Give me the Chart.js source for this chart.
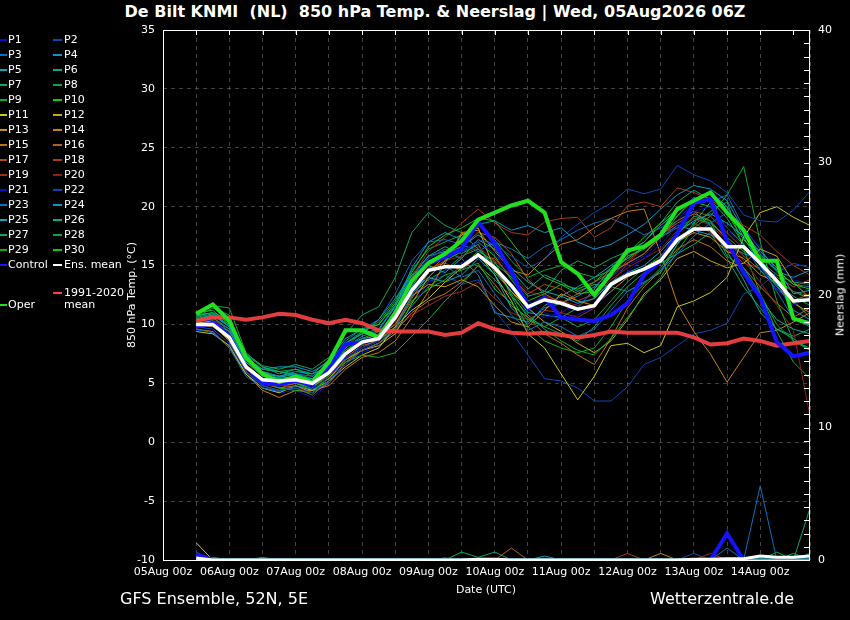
<!DOCTYPE html>
<html lang="nl">
<head>
<meta charset="UTF-8">
<title>De Bilt KNMI 850 hPa Temp. &amp; Neerslag</title>
<script src="https://cdn.jsdelivr.net/npm/chart.js"></script>
<style>
  html, body { margin: 0; padding: 0; background: #000; }
  body { width: 850px; height: 620px; overflow: hidden; position: relative; font-family: "DejaVu Sans", sans-serif; color: #fff; }
  #grafiek { position: absolute; left: 0; top: 0; }
  .titel { position: absolute; left: 0; top: 2px; width: 870px; text-align: center; font-weight: bold; font-size: 16px; white-space: nowrap; }
  .leg { position: absolute; font-size: 11px; line-height: 12px; white-space: nowrap; }
  .lijn { position: absolute; height: 2px; }
  .as-titel { position: absolute; font-size: 11px; white-space: nowrap; transform: translate(-50%, -50%) rotate(-90deg); }
  .x-titel { position: absolute; font-size: 11px; white-space: nowrap; transform: translate(-50%, -50%); }
  .voet { position: absolute; top: 589px; font-size: 16px; white-space: nowrap; }
</style>
</head>
<body>
<div class="titel">De Bilt KNMI&nbsp; (NL)&nbsp; 850 hPa Temp. &amp; Neerslag | Wed, 05Aug2026 06Z</div>
<canvas id="grafiek" width="850" height="620"></canvas>
<div id="legenda"></div>
<div class="as-titel" style="left:131px; top:295px;">850 hPa Temp. (°C)</div>
<div class="as-titel" style="left:840px; top:295px;">Neerslag (mm)</div>
<div class="x-titel" style="left:486px; top:589px;">Date (UTC)</div>
<div class="voet" style="left:120px;">GFS Ensemble, 52N, 5E</div>
<div class="voet" style="left:650px;">Wetterzentrale.de</div>

<script>
// uren sinds 05Aug 00z, stap 6 uur
const uren = [12, 18, 24, 30, 36, 42, 48, 54, 60, 66, 72, 78, 84, 90, 96, 102, 108, 114, 120, 126,
              132, 138, 144, 150, 156, 162, 168, 174, 180, 186, 192, 198, 204, 210, 216, 222, 228, 234];

const dagLabels = ['05Aug 00z', '06Aug 00z', '07Aug 00z', '08Aug 00z', '09Aug 00z',
                   '10Aug 00z', '11Aug 00z', '12Aug 00z', '13Aug 00z', '14Aug 00z'];

const kleuren = ['#0a10c8', '#0a48b8', '#0a70c0', '#0a96c8', '#0aa8bc', '#0aa88c', '#0aa864', '#0aa840', '#0ab020', '#10c810',
                 '#c8c810', '#c8a810', '#c89010', '#c88010', '#c07010', '#b86010', '#b04a10', '#a83c18', '#a02c1c', '#901c1c'];

// 850 hPa temperatuur per lid (°C)
const P1  = [10.2, 10.4, 9.2, 6.5, 5.0, 4.8, 5.2, 4.6, 5.5, 7.2,  8.0, 8.6, 10.5, 13.5, 15.2, 15.8, 16.2, 17.0, 16.0, 14.2,  12.0, 11.0, 10.4, 10.8, 11.5, 13.0, 14.5, 15.6, 16.8, 18.4,  19.6, 20.0, 18.2, 16.5, 14.8, 13.0, 11.6, 12.4];
const P2  = [9.8, 9.6, 8.4, 6.0, 4.8, 4.4, 4.6, 4.2, 5.2, 7.0,  8.2, 9.2, 11.2, 13.8, 15.6, 16.4, 16.0, 17.2, 16.8, 15.8,  14.8, 15.5, 17.4, 18.5, 19.5, 20.3, 21.5, 21.1, 21.5, 23.5,  22.7, 22.2, 21.2, 19.3, 18.8, 18.7, 19.7, 21.3];
const P3  = [9.6, 9.3, 8.0, 5.6, 4.6, 4.3, 4.8, 4.5, 5.0, 6.6,  7.8, 8.4, 9.6, 12.5, 14.5, 15.0, 14.0, 14.6, 12.6, 10.8,  9.5, 10.2, 9.8, 9.0, 9.6, 11.2, 12.8, 13.5, 14.6, 16.0,  17.5, 18.6, 19.5, 17.8, 15.0, 12.8, 10.5, 9.8];
const P4  = [10.4, 10.8, 9.8, 7.2, 5.6, 5.5, 5.8, 5.2, 6.2, 8.0,  9.0, 9.5, 11.5, 14.8, 17.0, 17.8, 17.2, 18.5, 18.8, 18.0,  18.4, 17.8, 18.2, 17.0, 16.4, 16.8, 17.6, 18.5, 19.8, 21.0,  21.8, 21.5, 20.5, 18.0, 16.0, 14.5, 14.0, 14.6];
const P5  = [10.0, 10.2, 9.4, 6.8, 5.8, 5.6, 6.0, 5.8, 6.4, 8.2,  8.8, 9.0, 10.6, 12.8, 14.0, 13.6, 14.2, 15.6, 14.2, 11.4,  10.0, 11.6, 12.4, 11.8, 12.2, 13.6, 14.4, 15.0, 16.2, 17.8,  18.8, 19.4, 18.6, 17.5, 16.2, 14.8, 12.6, 12.9];
const P6  = [10.3, 10.6, 9.6, 7.0, 6.2, 6.0, 5.6, 5.4, 6.8, 8.4,  9.2, 10.4, 12.2, 14.2, 15.0, 14.4, 15.6, 17.2, 16.4, 14.6,  13.0, 14.2, 13.6, 12.8, 13.4, 13.2, 12.8, 13.6, 14.4, 16.8,  18.6, 20.4, 17.0, 14.6, 12.2, 10.4, 9.6, 9.2];
const P7  = [10.6, 10.9, 10.2, 7.5, 6.5, 6.2, 6.6, 6.2, 7.2, 9.2,  10.8, 11.5, 14.0, 17.8, 19.5, 18.4, 17.8, 16.4, 15.2, 14.0,  12.4, 12.8, 14.6, 15.4, 14.8, 15.6, 16.2, 17.0, 18.6, 20.4,  21.4, 20.6, 19.0, 16.8, 14.6, 13.4, 12.4, 11.6];
const P8  = [10.8, 11.6, 11.4, 7.6, 6.4, 6.0, 5.8, 5.4, 6.2, 7.8,  8.6, 8.8, 9.6, 11.6, 13.2, 14.2, 14.6, 15.2, 13.0, 11.8,  10.4, 9.8, 10.6, 9.8, 10.4, 12.0, 13.6, 14.8, 15.8, 17.6,  19.2, 18.8, 15.8, 14.8, 12.6, 10.0, 8.6, 7.8];
const P9  = [10.2, 10.4, 9.0, 6.4, 5.2, 4.6, 4.4, 4.2, 5.6, 6.8,  7.4, 7.2, 7.6, 9.0, 10.4, 12.0, 13.4, 15.0, 13.8, 12.4,  10.8, 9.6, 8.6, 7.8, 7.4, 8.8, 10.6, 12.4, 14.0, 16.2,  18.2, 19.2, 21.0, 23.4, 17.0, 12.0, 8.6, 8.0];
const P10 = [11.0, 11.2, 10.0, 7.4, 6.0, 5.4, 5.0, 4.6, 5.8, 8.0,  9.4, 10.0, 11.8, 14.4, 16.6, 17.6, 18.2, 19.0, 18.8, 17.0,  15.2, 14.0, 13.4, 12.6, 12.8, 14.2, 15.8, 16.4, 17.4, 19.2,  20.6, 21.2, 19.4, 17.2, 15.8, 14.6, 13.4, 13.0];
const P11 = [9.4, 9.2, 8.2, 5.8, 4.6, 4.2, 4.8, 4.4, 5.2, 6.4,  7.4, 8.0, 9.8, 11.2, 12.2, 13.6, 14.8, 16.0, 14.2, 12.0,  9.2, 8.0, 5.8, 3.6, 5.6, 8.2, 8.4, 7.6, 8.2, 11.5,  12.0, 12.7, 14.0, 17.4, 19.5, 20.0, 19.1, 18.4];
const P12 = [9.8, 10.0, 8.6, 6.2, 5.0, 4.8, 5.0, 4.8, 5.4, 7.0,  7.8, 8.2, 9.2, 11.8, 14.0, 15.4, 17.6, 18.2, 14.6, 12.8,  11.4, 10.2, 9.4, 8.4, 7.6, 8.6, 10.4, 12.6, 13.8, 15.6,  16.2, 15.4, 14.8, 15.2, 16.4, 15.8, 13.6, 12.2];
const P13 = [10.1, 10.3, 9.1, 6.6, 5.4, 5.0, 5.4, 5.0, 5.8, 7.4,  8.4, 9.0, 10.0, 12.4, 13.4, 13.2, 13.8, 13.2, 11.6, 10.2,  9.8, 11.2, 12.6, 12.0, 11.6, 12.8, 14.0, 14.8, 15.6, 17.0,  17.8, 17.4, 16.2, 15.6, 14.2, 13.6, 11.8, 11.0];
const P14 = [9.6, 9.4, 8.0, 5.8, 4.4, 3.8, 4.4, 4.4, 4.8, 6.2,  7.2, 7.6, 8.6, 10.6, 12.8, 15.2, 17.8, 18.0, 16.2, 14.6,  14.2, 15.6, 16.8, 17.2, 18.2, 19.0, 19.6, 19.8, 16.0, 11.8,  9.4, 7.5, 5.1, 7.2, 9.3, 9.5, 10.2, 11.0];
const P15 = [9.9, 9.8, 8.8, 6.2, 5.0, 4.6, 4.8, 4.2, 5.0, 6.8,  7.8, 8.4, 9.4, 11.0, 12.0, 12.6, 13.6, 15.0, 13.4, 11.6,  10.6, 9.2, 8.4, 7.4, 6.6, 8.8, 11.4, 13.2, 14.6, 16.4,  17.2, 16.6, 15.4, 14.8, 13.2, 11.8, 10.6, 11.4];
const P16 = [10.2, 10.0, 8.6, 6.0, 4.8, 4.4, 4.6, 4.0, 5.2, 7.2,  8.2, 8.6, 9.8, 12.2, 14.4, 15.8, 16.6, 17.8, 17.4, 16.0,  13.8, 12.6, 11.8, 12.6, 13.6, 14.4, 15.2, 16.0, 17.6, 18.6,  19.4, 18.8, 17.2, 15.8, 14.6, 13.0, 12.0, 12.6];
const P17 = [10.0, 10.2, 9.0, 6.4, 5.2, 4.8, 5.0, 4.6, 5.4, 7.6,  8.6, 9.2, 10.8, 13.0, 14.8, 15.2, 14.6, 15.8, 15.6, 14.0,  12.6, 13.4, 13.0, 12.0, 12.6, 14.0, 15.4, 16.6, 17.6, 18.8,  19.6, 19.2, 17.8, 16.4, 15.2, 14.0, 13.2, 13.8];
const P18 = [10.4, 10.6, 9.4, 6.8, 5.6, 5.2, 5.4, 5.0, 5.8, 7.6,  8.6, 9.4, 11.0, 14.0, 16.2, 17.4, 18.6, 19.8, 18.6, 17.8,  17.6, 18.7, 19.0, 19.1, 17.4, 18.2, 20.1, 20.4, 20.0, 21.6,  21.2, 20.6, 19.6, 18.4, 17.6, 16.2, 15.0, 14.2];
const P19 = [9.7, 9.9, 8.8, 6.2, 5.0, 4.6, 5.0, 4.8, 5.6, 7.0,  7.8, 8.4, 9.6, 10.8, 11.6, 12.4, 12.8, 13.6, 12.2, 11.0,  10.4, 11.2, 11.0, 10.6, 11.4, 13.4, 15.2, 16.6, 17.8, 18.2,  18.6, 17.8, 16.4, 15.2, 14.8, 13.6, 12.8, 12.4];
const P20 = [10.3, 10.5, 9.2, 6.6, 5.4, 5.0, 5.2, 4.6, 5.4, 7.2,  8.0, 8.6, 10.2, 12.8, 14.6, 15.4, 15.8, 16.6, 15.4, 14.2,  12.8, 12.4, 12.0, 11.6, 12.2, 13.8, 14.8, 15.6, 16.4, 18.0,  19.0, 18.4, 17.2, 15.4, 13.6, 11.6, 9.5, 2.2];
const P21 = [9.5, 9.4, 8.2, 5.8, 4.6, 4.2, 4.4, 3.8, 5.0, 6.8,  7.6, 8.2, 9.2, 11.4, 13.6, 14.6, 15.2, 16.0, 14.8, 13.0,  11.2, 10.6, 11.0, 11.8, 12.6, 14.0, 15.0, 15.8, 17.2, 18.8,  20.4, 20.8, 19.6, 18.0, 16.6, 15.2, 13.8, 13.4];
const P22 = [9.9, 10.0, 8.6, 6.0, 4.6, 4.4, 4.8, 4.2, 5.2, 7.0,  7.8, 8.4, 9.8, 12.4, 13.6, 14.2, 13.4, 13.8, 11.2, 9.4,  7.4, 5.4, 5.2, 4.6, 3.5, 3.5, 4.7, 6.6, 7.2, 8.2,  9.2, 9.5, 10.1, 12.6, 13.2, 14.4, 15.2, 14.8];
const P23 = [10.0, 10.4, 9.6, 7.2, 6.0, 5.6, 5.8, 5.6, 6.6, 8.6,  9.6, 10.4, 12.6, 15.4, 17.0, 17.2, 16.8, 16.2, 17.0, 16.4,  15.6, 16.6, 17.2, 18.0, 18.6, 19.0, 18.4, 17.6, 18.2, 19.2,  20.8, 20.4, 21.0, 18.2, 16.4, 14.6, 13.4, 13.2];
const P24 = [10.4, 10.8, 10.0, 7.0, 6.2, 6.4, 6.4, 6.0, 6.8, 8.4,  9.2, 9.6, 11.6, 14.2, 15.8, 16.2, 15.6, 14.2, 11.0, 10.6,  10.2, 11.4, 11.8, 12.4, 13.2, 14.4, 15.2, 16.0, 17.4, 18.4,  18.0, 17.6, 16.8, 16.0, 15.6, 13.4, 11.2, 10.4];
const P25 = [10.2, 10.0, 9.2, 6.6, 5.4, 5.4, 5.6, 5.2, 6.0, 7.6,  8.4, 9.0, 10.8, 13.2, 15.4, 16.0, 16.6, 17.6, 16.6, 14.8,  13.6, 12.8, 12.4, 13.2, 14.0, 15.0, 16.0, 17.0, 18.4, 19.6,  20.6, 21.2, 20.0, 17.4, 15.0, 13.2, 12.0, 10.6];
const P26 = [10.7, 11.0, 10.4, 7.4, 6.4, 5.8, 6.2, 5.8, 7.0, 8.8,  9.6, 10.0, 11.6, 14.0, 15.8, 16.6, 16.0, 16.8, 14.4, 12.8,  11.0, 10.8, 10.6, 11.4, 13.0, 14.8, 15.6, 16.6, 17.8, 18.8,  19.6, 18.4, 16.2, 13.8, 11.0, 9.6, 8.8, 7.8];
const P27 = [9.8, 10.2, 9.4, 6.8, 5.6, 5.4, 5.2, 4.8, 5.6, 7.2,  8.0, 8.8, 10.4, 12.6, 13.8, 14.6, 15.8, 16.4, 15.0, 12.6,  10.6, 9.8, 9.2, 8.6, 9.8, 11.6, 13.2, 14.4, 15.2, 16.0,  16.8, 17.8, 15.6, 13.2, 11.4, 9.6, 9.0, 9.6];
const P28 = [10.5, 10.8, 9.8, 7.2, 6.2, 6.0, 6.2, 5.6, 6.6, 8.4,  9.4, 10.2, 12.0, 14.6, 16.4, 17.0, 17.6, 18.4, 17.2, 15.4,  14.0, 14.6, 15.0, 14.4, 14.0, 14.6, 15.6, 16.6, 17.4, 18.2,  19.0, 18.6, 17.4, 16.2, 15.4, 14.2, 13.6, 13.4];
const P29 = [10.6, 11.4, 10.8, 7.0, 5.8, 5.2, 5.0, 4.4, 5.4, 7.0,  8.0, 8.6, 9.8, 12.0, 13.0, 13.8, 15.0, 16.2, 15.4, 12.4,  9.8, 8.6, 8.0, 7.6, 8.0, 9.8, 12.0, 13.4, 14.8, 16.8,  18.4, 19.6, 20.4, 16.4, 12.6, 9.4, 6.8, 5.4];
const P30 = [10.8, 11.0, 9.8, 7.2, 6.0, 5.6, 5.4, 5.0, 6.0, 7.8,  8.8, 9.4, 10.6, 13.0, 14.6, 15.4, 16.2, 17.0, 15.8, 13.8,  12.0, 12.6, 13.4, 13.0, 13.6, 14.8, 16.0, 17.4, 18.6, 19.8,  20.4, 20.0, 18.2, 16.8, 15.2, 13.8, 12.8, 12.2];
const leden = [P1, P2, P3, P4, P5, P6, P7, P8, P9, P10, P11, P12, P13, P14, P15, P16, P17, P18, P19, P20,
               P21, P22, P23, P24, P25, P26, P27, P28, P29, P30];

const control  = [9.8, 10.1, 9.0, 6.4, 5.0, 4.9, 5.2, 4.9, 6.4, 8.3,  8.5, 8.9, 10.9, 13.7, 15.2, 15.7, 16.4, 18.7, 16.9, 14.5,  11.4, 12.3, 10.6, 10.4, 10.3, 10.8, 11.8, 14.2, 15.4, 17.7,  20.3, 20.6, 17.1, 14.4, 12.3, 8.5, 7.3, 7.6];
const oper     = [10.9, 11.7, 10.3, 7.2, 5.8, 5.1, 5.6, 5.1, 6.8, 9.5,  9.5, 8.9, 11.0, 13.7, 15.2, 16.0, 17.1, 18.9, 19.5, 20.1,  20.5, 19.5, 15.3, 14.3, 12.5, 14.3, 16.3, 16.6, 17.6, 19.8,  20.5, 21.2, 19.5, 18.0, 15.4, 15.4, 10.5, 10.1];
const ensMean  = [10.0, 10.0, 8.9, 6.4, 5.3, 5.2, 5.3, 5.0, 5.9, 7.5,  8.5, 8.8, 10.6, 12.9, 14.6, 14.9, 14.9, 15.9, 14.8, 13.3,  11.5, 12.1, 11.8, 11.3, 11.6, 13.4, 14.2, 14.7, 15.4, 17.2,  18.1, 18.1, 16.6, 16.6, 15.2, 13.7, 12.0, 12.1];
const klimaat  = [10.3, 10.6, 10.6, 10.4, 10.6, 10.9, 10.8, 10.4, 10.1, 10.4,  10.1, 9.5, 9.4, 9.4, 9.4, 9.1, 9.3, 10.1, 9.6, 9.3,  9.2, 9.3, 9.1, 8.9, 9.1, 9.4, 9.3, 9.3, 9.3, 9.3,  8.9, 8.3, 8.4, 8.8, 8.6, 8.2, 8.4, 8.6];

// neerslag (mm): [lid, tijdindex, mm]; overige tijdstappen 0
const neerslagLeden = [[11, 0, 1.3], [2, 0, 0.6], [22, 0, 0.5], [18, 0, 0.3], [15, 0, 0.3],
                       [8, 1, 0.2], [28, 4, 0.2], [14, 15, 0.15], [7, 16, 0.6], [7, 17, 0.2], [7, 18, 0.6],
                       [16, 19, 0.9], [24, 21, 0.3], [18, 26, 0.5], [14, 28, 0.5], [22, 30, 0.5], [19, 31, 0.5],
                       [23, 32, 0.9], [23, 34, 5.6], [28, 35, 0.6], [8, 36, 0.5], [25, 37, 0.5], [27, 37, 3.9]];
const neerslagControl = [0.4, 0, 0, 0, 0, 0, 0, 0, 0, 0,  0, 0, 0, 0, 0, 0, 0, 0, 0, 0,  0, 0, 0, 0, 0, 0, 0, 0, 0, 0,  0, 0, 2.0, 0, 0, 0, 0, 0];
const neerslagOper    = [0, 0, 0, 0, 0, 0, 0, 0, 0, 0,  0, 0, 0, 0, 0, 0, 0, 0, 0, 0,  0, 0, 0, 0, 0, 0, 0, 0, 0, 0,  0, 0, 0, 0, 0, 0, 0, 0];
const neerslagMean    = [0.15, 0, 0, 0, 0, 0, 0, 0, 0, 0,  0, 0, 0, 0, 0, 0, 0, 0.05, 0.05, 0,  0, 0, 0, 0, 0, 0, 0, 0, 0, 0,  0.05, 0.05, 0.1, 0.1, 0.3, 0.2, 0.2, 0.3];

function punten(reeks) {
    return uren.map((u, i) => ({ x: u, y: reeks[i] }));
}

// legenda in HTML
const legenda = document.getElementById('legenda');
function legendaItem(tekst, kleur, lijnX, lijnB, tekstX, y) {
    const l = document.createElement('div');
    l.className = 'lijn';
    l.style.left = lijnX + 'px';
    l.style.width = lijnB + 'px';
    l.style.top = (y - 1) + 'px';
    l.style.background = kleur;
    legenda.appendChild(l);
    const t = document.createElement('div');
    t.className = 'leg';
    t.style.left = tekstX + 'px';
    t.style.top = (y - 6) + 'px';
    t.innerHTML = tekst;
    legenda.appendChild(t);
}
leden.forEach((_, k) => {
    const rij = Math.floor(k / 2);
    const y = 40 + rij * 15;
    if (k % 2 === 0) legendaItem('P' + (k + 1), kleuren[k % 20], 0, 7, 8, y);
    else legendaItem('P' + (k + 1), kleuren[k % 20], 53, 9, 64, y);
});
legendaItem('Control', '#1414ff', 0, 7, 8, 265);
legendaItem('Ens. mean', '#ffffff', 53, 9, 64, 265);
legendaItem('1991-2020<br>mean', '#ff4040', 53, 9, 64, 293);
legendaItem('Oper', '#20e020', 0, 7, 8, 305);

// datasets
const datasets = [];
leden.forEach((reeks, k) => {
    datasets.push({ label: 'P' + (k + 1), data: punten(reeks), yAxisID: 'y',
        borderColor: kleuren[k % 20], borderWidth: 1, order: 10 });
    const regen = uren.map(() => 0);
    neerslagLeden.filter(n => n[0] === k + 1).forEach(n => { regen[n[1]] = n[2]; });
    datasets.push({ label: 'P' + (k + 1) + ' neerslag', data: punten(regen), yAxisID: 'y2',
        borderColor: kleuren[k % 20], borderWidth: 1, order: 9 });
});
datasets.push({ label: '1991-2020 mean', data: punten(klimaat), yAxisID: 'y', borderColor: 'rgba(240,64,64,0.95)', borderWidth: 4, order: 5 });
datasets.push({ label: 'Control', data: punten(control), yAxisID: 'y', borderColor: '#1414ff', borderWidth: 4, order: 4 });
datasets.push({ label: 'Control neerslag', data: punten(neerslagControl), yAxisID: 'y2', borderColor: '#1414ff', borderWidth: 4, order: 4 });
datasets.push({ label: 'Oper', data: punten(oper), yAxisID: 'y', borderColor: '#20e020', borderWidth: 4, order: 3 });
datasets.push({ label: 'Oper neerslag', data: punten(neerslagOper), yAxisID: 'y2', borderColor: '#20e020', borderWidth: 3, order: 3 });
datasets.push({ label: 'Ens. mean', data: punten(ensMean), yAxisID: 'y', borderColor: '#ffffff', borderWidth: 3.5, order: 1 });
datasets.push({ label: 'Ens. mean neerslag', data: punten(neerslagMean), yAxisID: 'y2', borderColor: '#ffffff', borderWidth: 3, order: 2 });

// kader met tickjes binnenin
const kaderPlugin = {
    id: 'kader',
    afterDatasetsDraw(chart) {
        const { ctx, chartArea: a, scales } = chart;
        ctx.save();
        ctx.strokeStyle = '#ffffff';
        ctx.lineWidth = 1;
        ctx.strokeRect(Math.round(a.left) + 0.5, Math.round(a.top) + 0.5, Math.round(a.width) - 1, Math.round(a.height));
        ctx.beginPath();
        for (let h = 12; h < 234; h += 12) {
            const x = Math.round(scales.x.getPixelForValue(h)) + 0.5;
            ctx.moveTo(x, a.top);
            ctx.lineTo(x, a.top + 5);
        }
        for (let mm = 1; mm < 40; mm++) {
            const y = Math.round(scales.y2.getPixelForValue(mm)) + 0.5;
            ctx.moveTo(a.right - 6, y);
            ctx.lineTo(a.right, y);
        }
        ctx.stroke();
        ctx.restore();
    }
};

const tickFont = { family: 'DejaVu Sans', size: 11 };
const gridKleur = 'rgba(110,110,110,0.6)';

new Chart(document.getElementById('grafiek'), {
    type: 'line',
    data: { datasets },
    options: {
        responsive: false,
        animation: false,
        layout: { padding: { top: 30, left: 0, right: 0, bottom: 0 } },
        elements: { point: { radius: 0 }, line: { tension: 0, fill: false } },
        plugins: { legend: { display: false }, tooltip: { enabled: false } },
        scales: {
            x: {
                type: 'linear', min: 0, max: 234,
                afterFit: s => { s.height = 60; },
                ticks: {
                    stepSize: 12, autoSkip: false, maxRotation: 0, color: '#ffffff', font: tickFont, padding: 6,
                    callback: v => (v % 24 === 0 ? dagLabels[v / 24] : '')
                },
                grid: { color: gridKleur, drawTicks: false },
                border: { display: false, dash: [4, 4] }
            },
            y: {
                position: 'left', min: -10, max: 35,
                afterFit: s => { s.width = 163; },
                ticks: { stepSize: 5, color: '#ffffff', font: tickFont, padding: 8 },
                grid: { color: gridKleur, drawTicks: false },
                border: { display: false, dash: [4, 4] }
            },
            y2: {
                position: 'right', min: 0, max: 40,
                afterFit: s => { s.width = 40; },
                ticks: {
                    stepSize: 1, autoSkip: false, color: '#ffffff', font: tickFont, padding: 8,
                    callback: v => (v % 10 === 0 ? v : '')
                },
                grid: { display: false, drawTicks: false },
                border: { display: false }
            }
        }
    },
    plugins: [kaderPlugin]
});
</script>
</body>
</html>
